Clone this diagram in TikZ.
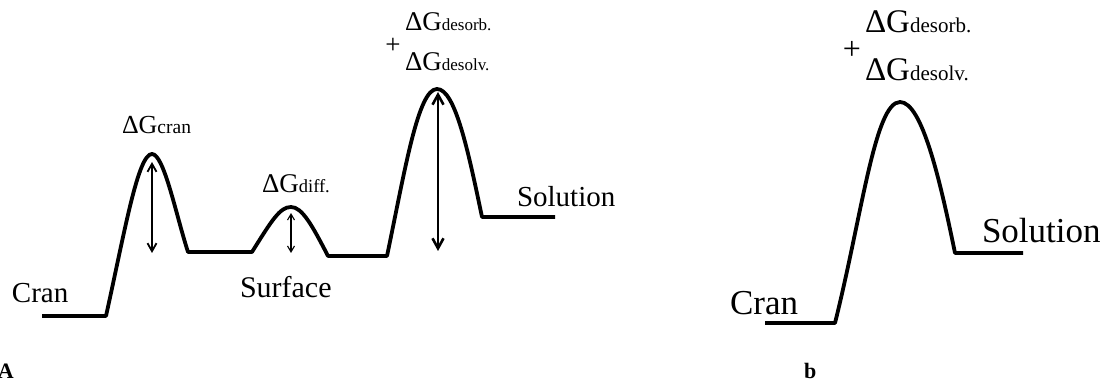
\documentclass[tikz,border=0pt]{standalone}
\usepackage{fontspec}
\setmainfont{Liberation Serif}
\usetikzlibrary{arrows.meta}
\newcommand\fsz[1]{\fontsize{#1}{#1}\selectfont}
\newcommand\dGlab[3]{{\fsz{#1}ΔG}{\fsz{#2}#3}}
\tikzset{
  curve/.style={line width=3.8pt, line join=round},
  lab/.style={anchor=base west, inner sep=0pt, outer sep=0pt},
  dbl/.style={{Straight Barb[length=8pt,width=9pt]}-{Straight Barb[length=8pt,width=9pt]}},
}
\begin{document}
\begin{tikzpicture}[x=1pt,y=-1pt]
\useasboundingbox (0,0) rectangle (1109,387);
% ---------- panel A ----------
\draw[curve] (42,316) -- (106,316)
  .. controls (125,230) and (138,154) .. (152,154)
  .. controls (164,154) and (176,215) .. (188,252)
  -- (252,252)
  .. controls (272,220) and (280,207) .. (291,207)
  .. controls (302,207) and (312,225) .. (328,256)
  -- (387,256)
  .. controls (405,170) and (418,89) .. (437,89)
  .. controls (455,89) and (468,150) .. (482,217)
  -- (555,217);
\coordinate (c1) at (152,162); \coordinate (c2) at (152,253);
\coordinate (d1) at (291,213); \coordinate (d2) at (291,253);
\coordinate (e1) at (438,92);  \coordinate (e2) at (438,251);
\draw[dbl, line width=1.8pt] (c1) -- (c2);
\draw[{Straight Barb[length=6pt,width=7pt]}-{Straight Barb[length=6pt,width=7pt]}, line width=1.1pt] (d1) -- (d2);
\draw[{Straight Barb[length=10pt,width=11pt]}-{Straight Barb[length=10pt,width=11pt]}, line width=2.6pt] (e1) -- (e2);
\node[lab] (gcran) at (122,134) {\dGlab{26}{19.5}{cran}};
\node[lab] (gdiff) at (262,193) {\dGlab{27}{18.5}{diff.}};
\node[lab] (gdesA) at (405,31) {\dGlab{27}{17}{desorb.}};
\node[anchor=center, inner sep=0pt] (plusA) at (393,46) {\fsz{27}+};
\node[lab] (gdsvA) at (405,71) {\dGlab{27}{17}{desolv.}};
\node[lab] (cranA) at (12,303) {\fsz{29}Cran};
\node[lab] (surf) at (240,298) {\fsz{30}Surface};
\node[lab] (solA) at (517,207) {\fsz{29}Solution};
\node[lab] (labA) at (-2,379) {\fsz{22}\bfseries A};
% ---------- panel b ----------
\draw[curve] (765,323) -- (835,323)
  .. controls (862,215) and (875,102) .. (900,102)
  .. controls (922,102) and (940,180) .. (955,253)
  -- (1023,253);
\node[lab] (gdesB) at (865,33) {\dGlab{33}{21}{desorb.}};
\node[anchor=center, inner sep=0pt] (plusB) at (852,50) {\fsz{32}+};
\node[lab] (gdsvB) at (865,81) {\dGlab{33}{21}{desolv.}};
\node[lab] (cranB) at (730,315) {\fsz{35}Cran};
\node[lab] (solB) at (982,243) {\fsz{35}Solution};
\node[lab] (labB) at (804,379) {\fsz{22}\bfseries b};
\end{tikzpicture}
\end{document}
